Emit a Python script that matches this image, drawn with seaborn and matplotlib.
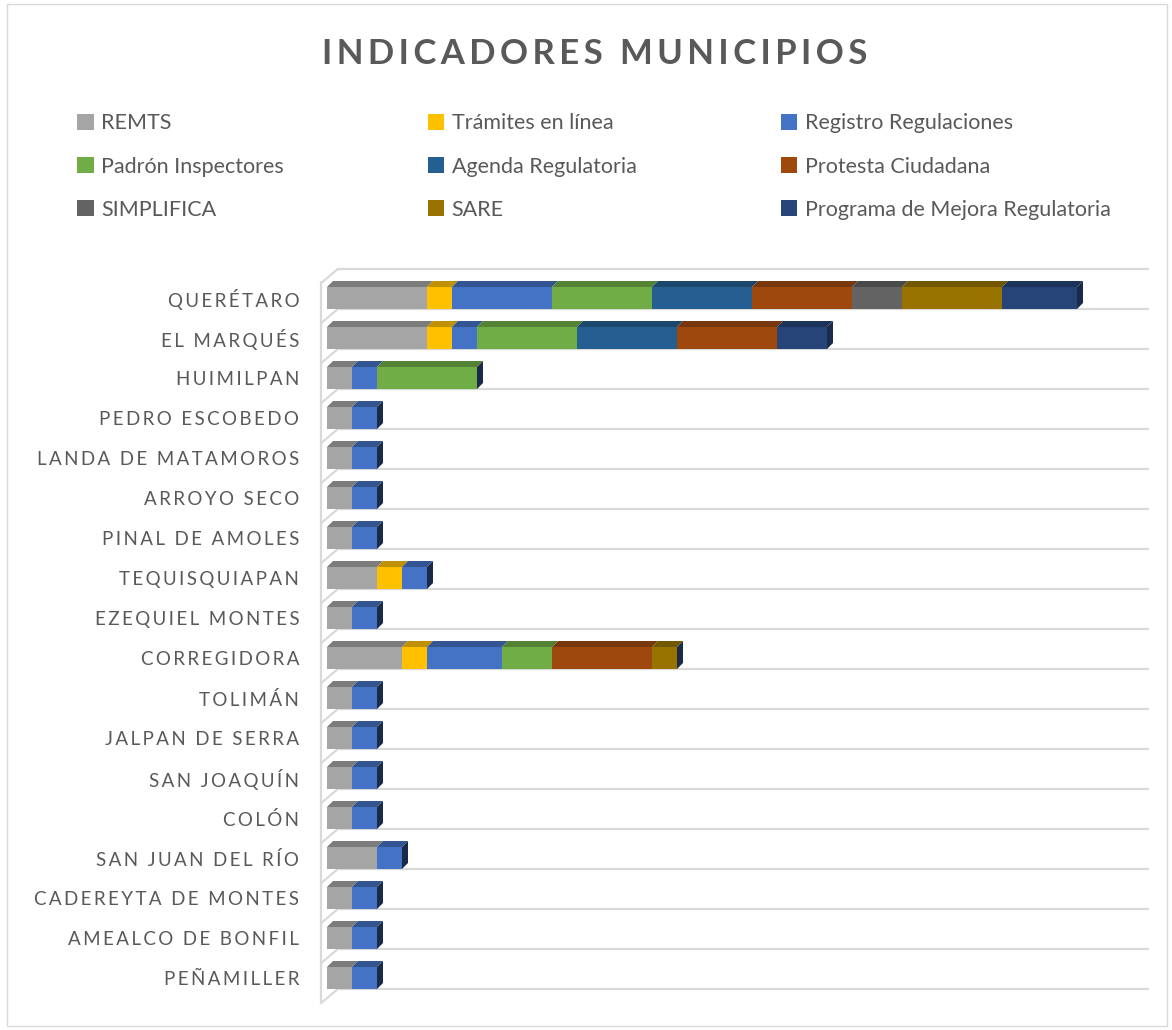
import matplotlib
matplotlib.use("Agg")
import matplotlib.pyplot as plt
from matplotlib.patches import Polygon, Rectangle
import pandas as pd
import seaborn as sns

municipios = ["QUERÉTARO", "EL MARQUÉS", "HUIMILPAN", "PEDRO ESCOBEDO",
              "LANDA DE MATAMOROS", "ARROYO SECO", "PINAL DE AMOLES",
              "TEQUISQUIAPAN", "EZEQUIEL MONTES", "CORREGIDORA", "TOLIMÁN",
              "JALPAN DE SERRA", "SAN JOAQUÍN", "COLÓN", "SAN JUAN DEL RÍO",
              "CADEREYTA DE MONTES", "AMEALCO DE BONFIL", "PEÑAMILLER"]

series = ["REMTS", "Trámites en línea", "Registro Regulaciones",
          "Padrón Inspectores", "Agenda Regulatoria", "Protesta Ciudadana",
          "SIMPLIFICA", "SARE", "Programa de Mejora Regulatoria"]

remts      = [4, 4, 1, 1, 1, 1, 1, 2, 1, 3, 1, 1, 1, 1, 2, 1, 1, 1]
tramites   = [1, 1, 0, 0, 0, 0, 0, 1, 0, 1, 0, 0, 0, 0, 0, 0, 0, 0]
registro   = [4, 1, 1, 1, 1, 1, 1, 1, 1, 3, 1, 1, 1, 1, 1, 1, 1, 1]
padron     = [4, 4, 4, 0, 0, 0, 0, 0, 0, 2, 0, 0, 0, 0, 0, 0, 0, 0]
agenda     = [4, 4, 0, 0, 0, 0, 0, 0, 0, 0, 0, 0, 0, 0, 0, 0, 0, 0]
protesta   = [4, 4, 0, 0, 0, 0, 0, 0, 0, 4, 0, 0, 0, 0, 0, 0, 0, 0]
simplifica = [2, 0, 0, 0, 0, 0, 0, 0, 0, 0, 0, 0, 0, 0, 0, 0, 0, 0]
sare       = [4, 0, 0, 0, 0, 0, 0, 0, 0, 1, 0, 0, 0, 0, 0, 0, 0, 0]
programa   = [3, 2, 0, 0, 0, 0, 0, 0, 0, 0, 0, 0, 0, 0, 0, 0, 0, 0]

colores = ["#a5a5a5", "#ffc000", "#4472c4", "#70ad47", "#255e91",
           "#9e480e", "#636363", "#997300", "#264478"]

valores = [remts, tramites, registro, padron, agenda, protesta,
           simplifica, sare, programa]

df = pd.DataFrame(dict(zip(series, valores)), index=municipios)
acum = df.cumsum(axis=1)

sns.set_theme(style="white")
plt.rcParams['font.family'] = ['Lato', 'DejaVu Sans']

fig = plt.figure(figsize=(11.72, 10.30), dpi=100)
ax = fig.add_axes([327 / 1172, 1 - 1006 / 1030, (1148 - 327) / 1172, 748 / 1030])

# barras apiladas: se pinta el acumulado de mayor a menor
etiquetas = ["\u2009".join(s) for s in municipios]
for serie, color in reversed(list(zip(series, colores))):
    sns.barplot(x=acum[serie].values, y=etiquetas, orient="h", color=color,
                saturation=1, width=0.55, ax=ax, linewidth=0, zorder=3)

# efecto 3D: cara superior y lateral
h = 0.55
dx, dy = 0.24, 0.15
def oscuro(c, f=0.75):
    r, g, b = matplotlib.colors.to_rgb(c)
    return (r * f, g * f, b * f)

for i in range(len(municipios)):
    ytop = i - h / 2
    izq = 0
    for j, serie in enumerate(series):
        v = df.iloc[i, j]
        if v > 0:
            ax.add_patch(Polygon([(izq, ytop), (izq + v, ytop),
                                  (izq + v + dx, ytop - dy), (izq + dx, ytop - dy)],
                                 closed=True, facecolor=oscuro(colores[j]),
                                 edgecolor="none", zorder=4))
        izq += v
    ax.add_patch(Polygon([(izq, ytop), (izq + dx, ytop - dy),
                          (izq + dx, ytop + h - dy), (izq, ytop + h)],
                         closed=True, facecolor="#1b2a48", edgecolor="none", zorder=4))

# rejilla en perspectiva
xmax = (1148 - 327) / 25
ax.set_xlim(0, xmax)
ax.set_ylim(17.7, -1.0)
gris = "#d9d9d9"
muro_x, inicio_x, caida = -0.24, 0.44, 0.36
for k in range(-1, 18):
    yl = k + 0.27
    ax.plot([inicio_x, xmax], [yl, yl], color=gris, lw=1.6, zorder=1, clip_on=False)
    ax.plot([muro_x, inicio_x], [yl + caida, yl], color=gris, lw=1.6, zorder=1, clip_on=False)
ax.plot([muro_x, muro_x], [-0.75 + caida, 17.27 + caida], color=gris, lw=1.6,
        zorder=1, clip_on=False)

for s in ax.spines.values():
    s.set_visible(False)
ax.set_xticks([])
ax.set_xlabel("")
ax.set_ylabel("")
ax.tick_params(axis="y", length=0, pad=20, labelsize=13.5, labelcolor="#595959")

# leyenda en tres columnas (orden por filas)
handles = [Rectangle((0, 0), 1, 1, facecolor=c, edgecolor="none") for c in colores]
orden = [0, 3, 6, 1, 4, 7, 2, 5, 8]
fig.legend([handles[o] for o in orden], [series[o] for o in orden],
           ncol=3, loc="upper left", bbox_to_anchor=(58 / 1172, 1 - 94 / 1030),
           frameon=False, fontsize=15.5, labelcolor="#595959",
           handlelength=0.75, handleheight=0.75, handletextpad=0.35,
           columnspacing=6.7, labelspacing=1.08)

titulo = "\u2009".join("INDICADORES MUNICIPIOS")
fig.text(0.507, 1 - 54 / 1030, titulo, ha="center", va="center",
         fontsize=25, fontweight="bold", color="#595959")

fig.add_artist(Rectangle((0.006, 0.004), 0.99, 0.992, transform=fig.transFigure,
                         fill=False, edgecolor="#d9d9d9", lw=1))

fig.savefig("out.png", dpi=100)
